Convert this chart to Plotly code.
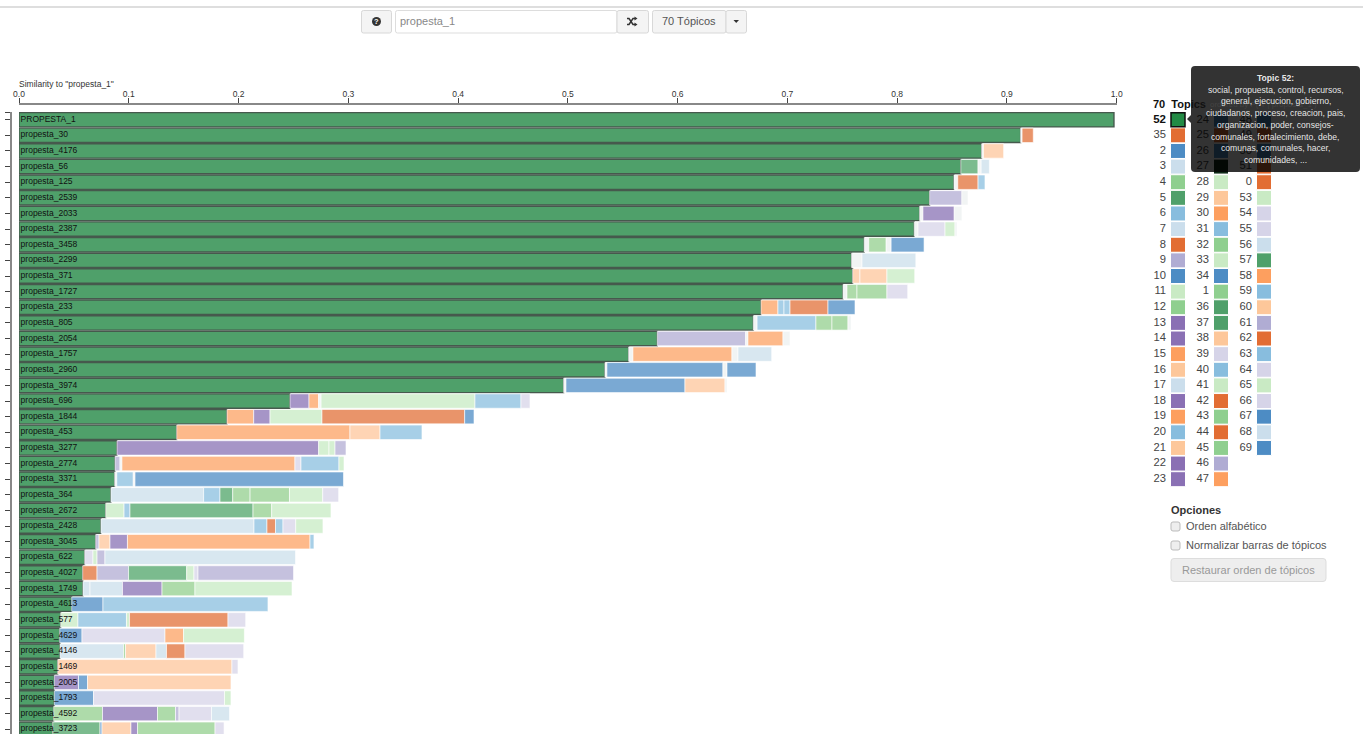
import plotly.graph_objects as go

W, H = 1363, 734
def px(x): return x / W
def py(y): return 1 - y / H

# ---- colours ----
MAIN = "#4fa06a"
FILL = {
    "A": "#e9946a", "B": "#fdb98a", "C": "#fed4b4",
    "D": "#a695c7", "E": "#c5c1de", "F": "#e1dfee",
    "G": "#7aa9d3", "H": "#a7cfe7", "I": "#d8e7f0",
    "J": "#7bbb8e", "K": "#aedbaa", "L": "#d5f0d2",
    "W": "#f1f4f4",
}
SWATCH = {
    "a": "#e26d33", "b": "#fd9f5f", "c": "#fdc79a",
    "d": "#8a70b4", "e": "#b0acd3", "f": "#d6d4e8",
    "g": "#4d8cc4", "h": "#88bdde", "i": "#cbdeec",
    "j": "#4fa06a", "k": "#8fcf8f", "l": "#c9eac4",
    "n": "#0f2a18",
}

# ---- documents and their topic stacks ----
documents = ["PROPESTA_1", "propesta_30", "propesta_4176", "propesta_56", "propesta_125",
             "propesta_2539", "propesta_2033", "propesta_2387", "propesta_3458", "propesta_2299",
             "propesta_371", "propesta_1727", "propesta_233", "propesta_805", "propesta_2054",
             "propesta_1757", "propesta_2960", "propesta_3974", "propesta_696", "propesta_1844",
             "propesta_453", "propesta_3277", "propesta_2774", "propesta_3371", "propesta_364",
             "propesta_2672", "propesta_2428", "propesta_3045", "propesta_622", "propesta_4027",
             "propesta_1749", "propesta_4613", "propesta_577", "propesta_4629", "propesta_4146",
             "propesta_1469", "propesta_2005", "propesta_1793", "propesta_4592", "propesta_3723"]

# value of the selected topic (52) for each document
topic52 = [.9975, .9125, .877, .858, .8518, .8296, .8205, .8156, .770, .7585,
           .7595, .7507, .676, .669, .5815, .5554, .5338, .4962, .2469, .1895,
           .1437, .0893, .0875, .0872, .0838, .079, .0747, .0699, .0599, .058,
           .0583, .048, .038, .0371, .0374, .0353, .0322, .0322, .0316, .0307]

# topic colour groups stacked after topic 52, one string per document
stack_colors = ["", "WA", "WC", "JWI", "WAH", "EW", "WDW", "WFLW", "WKWG", "WI",
                "CCL", "WKKF", "BHHAG", "WHKKW", "EWBW", "WBWI", "WGWG", "WGCW", "DBWLHF", "BDLAG",
                "BCH", "DLLE", "EWBFHL", "WHWG", "IHJKKLF", "LHJKL", "IHAHFL", "ECDBH", "FLEI", "AEJLFE",
                "IIDKL", "GH", "LHLAF", "GFBL", "IKCIAF", "CF", "DGC", "GFL", "KDKEFI", "JGCDKF"]

# cumulative end of every stacked topic, one list per document
stack_ends = [
    [],
    [.9138, .924], [.8786, .897], [.8737, .8765, .884], [.8552, .8737, .880],
    [.859, .8645], [.8235, .852, .859], [.819, .8436, .8527, .8545],
    [.7741, .79, .7945, .8245], [.768, .817],
    [.7661, .7907, .816], [.7543, .7634, .7907, .8096],
    [.6914, .6969, .7024, .737, .7616], [.6724, .726, .7406, .7552, .758],
    [.662, .6641, .696, .7024], [.5593, .6495, .655, .6857],
    [.5356, .6413, .645, .6714], [.4983, .6067, .6432, .645],
    [.2642, .273, .2752, .4154, .4573, .4655], [.2138, .2287, .276, .406, .4145],
    [.3015, .3289, .3671], [.273, .2824, .2879, .2979],
    [.092, .0938, .2514, .2569, .2915, .2961], [.0891, .1041, .1057, .2956],
    [.1682, .1831, .1947, .2105, .2464, .2767, .2912], [.0957, .1011, .2132, .2302, .2842],
    [.2141, .2259, .2337, .2405, .2521, .2769], [.0729, .0829, .0988, .2651, .2687],
    [.0674, .0711, .0783, .2519], [.0711, .0998, .1528, .1594, .1631, .2501],
    [.0647, .0943, .1303, .1603, .2487], [.0765, .2268],
    [.0537, .0979, .1007, .1904, .2065], [.0574, .133, .1499, .2053],
    [.0952, .097, .1248, .1344, .1512, .2047], [.194, .1995],
    [.0542, .0624, .1931], [.0679, .1872, .1931],
    [.0761, .1262, .1426, .1458, .1754, .1918], [.0738, .0756, .102, .108, .1786, .1868],
]

# ---- topic key (right hand side) ----
key_col1 = ["35", "2", "3", "4", "5", "6", "7", "8", "9", "10", "11", "12", "13", "14", "15", "16",
            "17", "18", "19", "20", "21", "22", "23"]
key_col1_colors = "agikjhiaeglkddbcidbhcdd"
key_col2 = ["24", "25", "26", "27", "28", "29", "30", "31", "32", "33", "34", "1", "36", "37", "38",
            "39", "40", "41", "42", "43", "44", "45", "46", "47"]
key_col2_colors = "gagnlcbhklgkjjcfhlakakeb"
key_col3 = ["48", "49", "50", "51", "0", "53", "54", "55", "56", "57", "58", "59", "60", "61", "62",
            "63", "64", "65", "66", "67", "68", "69"]
key_col3_colors = "gagaalffijbhceahflfgig"

tooltip_lines = ["<b>Topic 52:</b>", "social, propuesta, control, recursos,",
                 "general, ejecucion, gobierno,", "ciudadanos, proceso, creacion, pais,",
                 "organizacion, poder, consejos-", "comunales, fortalecimiento, debe,",
                 "comunas, comunales, hacer,", "comunidades, ..."]

FONT = "Liberation Sans"
KEY_PITCH = 43
fig = go.Figure()
rows = list(range(len(documents)))

# level 0: topic 52 bars with dark border
fig.add_trace(go.Bar(orientation="h", y=rows, x=topic52, base=[0] * len(rows), width=0.92,
                     marker=dict(color=MAIN, line=dict(color="#46594d", width=1.4)),
                     hoverinfo="skip", showlegend=False))

# further levels
max_level = max(len(s) for s in stack_ends)
for level in range(max_level):
    ys, xs, bases, cols = [], [], [], []
    for r in rows:
        ends = stack_ends[r]
        if level < len(ends):
            start = topic52[r] if level == 0 else ends[level - 1]
            ys.append(r); bases.append(start); xs.append(ends[level] - start)
            cols.append(FILL[stack_colors[r][level]])
    fig.add_trace(go.Bar(orientation="h", y=ys, x=xs, base=bases, width=0.92,
                         marker=dict(color=cols, line=dict(color="white", width=0.6)),
                         hoverinfo="skip", showlegend=False))

# document labels
fig.add_trace(go.Scatter(x=[1.6 / 1097.7] * len(rows), y=rows, mode="text", text=documents,
                         textposition="middle right",
                         textfont=dict(family=FONT, size=8.5, color="#111"),
                         hoverinfo="skip", showlegend=False))

# topic key
for col, (labels, codes) in enumerate([(key_col1, key_col1_colors),
                                       (key_col2, key_col2_colors),
                                       (key_col3, key_col3_colors)]):
    start = 1 if col == 0 else 0
    key_rows = [start + i for i in range(len(labels))]
    fig.add_trace(go.Scatter(
        x=[col] * len(labels), y=key_rows, mode="markers",
        marker=dict(symbol="square", size=15, color=[SWATCH[c] for c in codes],
                    line=dict(color="white", width=1)),
        xaxis="x2", yaxis="y", cliponaxis=False, hoverinfo="skip", showlegend=False))
    fig.add_trace(go.Scatter(
        x=[col - 12 / KEY_PITCH] * len(labels), y=key_rows, mode="text", text=labels,
        textposition="middle left", textfont=dict(family=FONT, size=11.2, color="#444"),
        xaxis="x2", yaxis="y", cliponaxis=False, hoverinfo="skip", showlegend=False))
fig.add_trace(go.Scatter(
    x=[0], y=[0], mode="markers",
    marker=dict(symbol="square", size=14, color="#238b45", line=dict(color="#111", width=1.5)),
    xaxis="x2", yaxis="y", cliponaxis=False, hoverinfo="skip", showlegend=False))
fig.add_trace(go.Scatter(
    x=[-12 / KEY_PITCH], y=[0], mode="text", text=["<b>52</b>"], textposition="middle left",
    textfont=dict(family=FONT, size=11.5, color="#111"),
    xaxis="x2", yaxis="y", cliponaxis=False, hoverinfo="skip", showlegend=False))

def rect(x0, y0, x1, y1, fill, line=None, width=1):
    return dict(type="rect", xref="paper", yref="paper", x0=px(x0), x1=px(x1), y0=py(y1), y1=py(y0),
                fillcolor=fill, line=dict(color=line or fill, width=width if line else 0), layer="above")

def path(points, fill=None, line=None, width=1):
    d = "M " + " L ".join(f"{px(a):.5f} {py(b):.5f}" for a, b in points)
    if fill:
        d += " Z"
    return dict(type="path", xref="paper", yref="paper", path=d,
                fillcolor=fill or "rgba(0,0,0,0)",
                line=dict(color=line or "rgba(0,0,0,0)", width=width), layer="above")

def rounded(x0, y0, x1, y1, r, fill, line=None):
    d = (f"M {px(x0+r):.5f} {py(y0):.5f} L {px(x1-r):.5f} {py(y0):.5f} "
         f"Q {px(x1):.5f} {py(y0):.5f} {px(x1):.5f} {py(y0+r):.5f} L {px(x1):.5f} {py(y1-r):.5f} "
         f"Q {px(x1):.5f} {py(y1):.5f} {px(x1-r):.5f} {py(y1):.5f} L {px(x0+r):.5f} {py(y1):.5f} "
         f"Q {px(x0):.5f} {py(y1):.5f} {px(x0):.5f} {py(y1-r):.5f} L {px(x0):.5f} {py(y0+r):.5f} "
         f"Q {px(x0):.5f} {py(y0):.5f} {px(x0+r):.5f} {py(y0):.5f} Z")
    return dict(type="path", xref="paper", yref="paper", path=d, fillcolor=fill,
                line=dict(color=line or fill, width=1 if line else 0), layer="above")

def label(x, y, text, size=11, color="#444", anchor="left", family=FONT):
    return dict(xref="paper", yref="paper", x=px(x), y=py(y), text=text, showarrow=False,
                xanchor=anchor, yanchor="middle", align=anchor,
                font=dict(family=family, size=size, color=color))

shapes = [
    rect(0, 6, W, 8, "#dedede"),
    # toolbar
    rounded(361.5, 10.5, 391.5, 33, 2, "#f4f4f4", "#d8d8d8"),
    rounded(395.5, 10.5, 617, 33, 2, "#ffffff", "#dddddd"),
    rounded(617, 10.5, 648.5, 33, 2, "#f4f4f4", "#d8d8d8"),
    rounded(652.5, 10.5, 726, 33, 2, "#f4f4f4", "#d8d8d8"),
    rounded(726, 10.5, 746.5, 33, 2, "#f4f4f4", "#d8d8d8"),
    dict(type="circle", xref="paper", yref="paper", x0=px(372), x1=px(381), y0=py(26), y1=py(17),
         fillcolor="#333", line=dict(width=0), layer="above"),
    path([(627, 18.5), (629, 18.5), (633, 24.5), (635, 24.5)], line="#333", width=1.5),
    path([(627, 24.5), (629, 24.5), (633, 18.5), (635, 18.5)], line="#333", width=1.5),
    path([(634.5, 16.5), (637.5, 18.5), (634.5, 20.5)], fill="#333"),
    path([(634.5, 22.5), (637.5, 24.5), (634.5, 26.5)], fill="#333"),
    path([(733.5, 20), (739, 20), (736.2, 23)], fill="#333"),
    # options panel
    rounded(1171, 522, 1180, 531, 2, "#eeeeee", "#bbbbbb"),
    rounded(1171, 541, 1180, 550, 2, "#eeeeee", "#bbbbbb"),
    rounded(1171, 558.5, 1326, 581.5, 3, "#eeeeee", "#dddddd"),
    # tooltip
    rounded(1191, 66, 1360, 172, 4, "rgba(0,0,0,0.8)"),
    path([(1191, 115), (1187, 119), (1191, 123)], fill="rgba(0,0,0,0.8)"),
]

annotations = [
    label(16.5, 84, "Similarity to \"propesta_1\"", size=8.5, color="#333"),
    label(1151, 104, "<b>70&nbsp;&nbsp;Topics</b>", size=11, color="#111"),
    label(1208, 105, "ordered by P( T | propesta_1 )", size=8, color="#444"),
    label(376.5, 21.5, "<b>?</b>", size=7.5, color="#fff", anchor="center"),
    label(398, 21.5, "propesta_1", size=11, color="#888"),
    label(689, 21.5, "70 Tópicos", size=11, color="#555", anchor="center"),
    label(1169, 510, "<b>Opciones</b>", size=11, color="#333"),
    label(1184, 526, "Orden alfabético", size=11, color="#555"),
    label(1184, 545, "Normalizar barras de tópicos", size=11, color="#555"),
    label(1248.5, 570, "Restaurar orden de tópicos", size=11, color="#999", anchor="center"),
]
for i, line in enumerate(tooltip_lines):
    annotations.append(label(1275.5, 78 + 11.72 * i, line, size=8.6,
                             color="rgba(255,255,255,0.9)", anchor="center"))

ROW_TOP_PX, ROW0_PX, ROW_PX = 112, 119.7, 15.63
y_top = (ROW_TOP_PX - ROW0_PX) / ROW_PX
y_bot = (H - ROW0_PX) / ROW_PX

fig.update_layout(
    width=W, height=H, autosize=False, margin=dict(l=0, r=0, t=0, b=0, pad=0, autoexpand=False),
    paper_bgcolor="white", plot_bgcolor="white", barmode="overlay", showlegend=False,
    shapes=shapes, annotations=annotations,
    xaxis=dict(domain=[px(19), px(1116.7)], range=[0, 1], side="top", anchor="free",
               position=py(103.5), tickvals=[i / 10 for i in range(11)],
               ticktext=[f"{i / 10:.1f}" for i in range(11)], ticks="outside", ticklen=5,
               ticklabelstandoff=-3,
               tickcolor="#444", tickwidth=1, showline=True, linecolor="#888", linewidth=1.5,
               showgrid=False, zeroline=False, tickfont=dict(family=FONT, size=8.5, color="#333")),
    yaxis=dict(domain=[0, py(ROW_TOP_PX)], range=[y_bot, y_top], anchor="free", position=px(11),
               side="left", tickvals=[y_top] + rows, showticklabels=False, ticks="outside",
               ticklen=5, tickcolor="#444", tickwidth=1, showline=True, linecolor="#888",
               linewidth=1.5, showgrid=False, zeroline=False),
    xaxis2=dict(domain=[px(1140), 1], range=[(1140 - 1178) / KEY_PITCH, (W - 1178) / KEY_PITCH],
                anchor="y", visible=False, fixedrange=True),
)

fig.write_html("out.html", config={"displayModeBar": False},
               post_script="document.body.style.margin='0';document.body.style.overflow='hidden';")
